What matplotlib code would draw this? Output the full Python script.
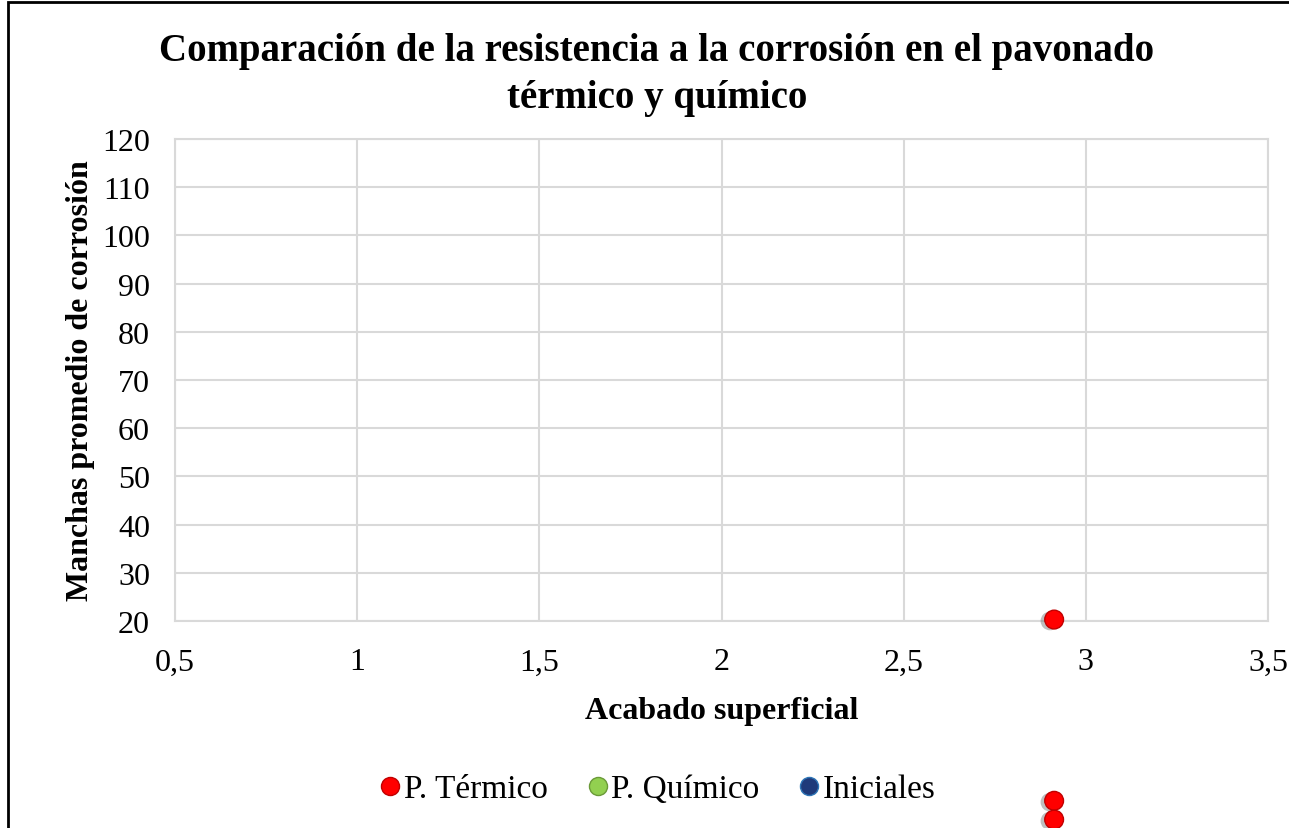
import matplotlib
matplotlib.use('Agg')
import matplotlib.pyplot as plt
import matplotlib.patheffects as pe
from matplotlib.lines import Line2D
from matplotlib.patches import Rectangle
from matplotlib.ticker import FuncFormatter

# datos del ensayo
termico_x = [2.913, 2.913, 2.913]
termico_y = [20.3, -17.3, -21.2]
quimico_x = []
quimico_y = []
iniciales_x = []
iniciales_y = []

series = ['P. Térmico', 'P. Químico', 'Iniciales']
x_ticks = [0.5, 1, 1.5, 2, 2.5, 3, 3.5]
y_ticks = [20, 30, 40, 50, 60, 70, 80, 90, 100, 110, 120]

plt.rcParams['font.family'] = ['Liberation Serif', 'DejaVu Serif']

W, H = 1289, 829
fig = plt.figure(figsize=(W / 100, H / 100), dpi=100)

# marco exterior del grafico
fig.patches.append(Rectangle((8 / W, -0.1), 1.2, 1 - 3 / H + 0.1,
                             transform=fig.transFigure, fill=False,
                             edgecolor='black', linewidth=2))

ax = fig.add_axes([175 / W, (H - 622) / H, 1093 / W, 482 / H])

gris = '#d9d9d9'
for s in ax.spines.values():
    s.set_color(gris)
    s.set_linewidth(1.5)
ax.grid(True, color=gris, linewidth=1.5)
ax.set_axisbelow(True)

ax.set_xlim(0.5, 3.5)
ax.set_ylim(20, 120)
ax.set_xticks(x_ticks)
ax.set_yticks(y_ticks)
ax.xaxis.set_major_formatter(FuncFormatter(lambda v, p: f'{v:g}'.replace('.', ',')))
ax.tick_params(length=0, labelsize=23)
ax.tick_params(axis='y', pad=18)
ax.tick_params(axis='x', pad=19)

sombra = [pe.SimplePatchShadow(offset=(-3, -1), shadow_rgbFace='#606060', alpha=0.4), pe.Normal()]
estilos = {
    'P. Térmico': dict(color='#ff0000', mec='#c00000'),
    'P. Químico': dict(color='#92d050', mec='#6a9a38'),
    'Iniciales': dict(color='#1f3a7a', mec='#2e75b6'),
}

datos = {
    'P. Térmico': (termico_x, termico_y),
    'P. Químico': (quimico_x, quimico_y),
    'Iniciales': (iniciales_x, iniciales_y),
}
for nombre in series:
    xs, ys = datos[nombre]
    st = estilos[nombre]
    ax.plot(xs, ys, linestyle='none', marker='o', markersize=13.5,
            markerfacecolor=st['color'], markeredgecolor=st['mec'],
            markeredgewidth=1, clip_on=False, path_effects=sombra, zorder=5)

ax.set_xlabel('Acabado superficial', fontsize=23, fontweight='bold', labelpad=14)
ax.set_ylabel('Manchas promedio de corrosión', fontsize=23, fontweight='bold', labelpad=5)

fig.text(657 / W, 1 - 75 / H, 'Comparación de la resistencia a la corrosión en el pavonado\ntérmico y químico',
         ha='center', va='center', fontsize=28, fontweight='bold', linespacing=1.35)

handles = [Line2D([], [], linestyle='none', marker='o', markersize=13,
                  markerfacecolor=estilos[n]['color'], markeredgecolor=estilos[n]['mec'])
           for n in series]
fig.legend(handles, series, loc='center', bbox_to_anchor=(658 / W, 1 - 790 / H),
           ncol=3, frameon=False, fontsize=24, handlelength=0.6, handletextpad=0.1,
           columnspacing=1.2)

fig.savefig('out.png', dpi=100)
